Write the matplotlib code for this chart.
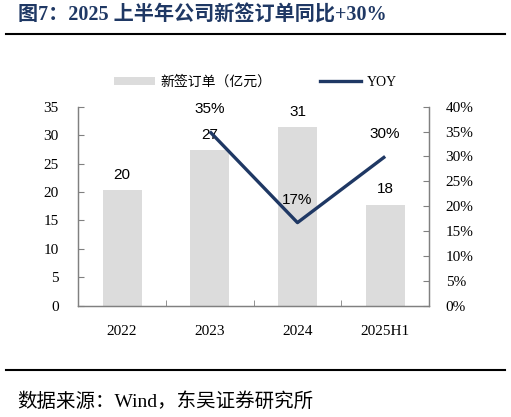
import matplotlib
matplotlib.use("Agg")
import matplotlib.pyplot as plt
from matplotlib.lines import Line2D
from matplotlib.patches import Patch
import numpy as np

# chart data
categories = ["2022", "2023", "2024", "2025H1"]
orders = [20.3, 27.3, 31.4, 17.8]          # 新签订单（亿元）
yoy_cats = ["2023", "2024", "2025H1"]
yoy = [0.35, 0.167, 0.30]                  # YOY

bar_color = "#dcdcdc"
line_color = "#1f3864"
spine_color = "#808080"
serif_cjk = ["Liberation Serif", "Noto Sans CJK SC"]
sans = ["Liberation Sans", "Noto Sans CJK SC"]

fig = plt.figure(figsize=(5.11, 4.17), dpi=100)
ax = fig.add_axes([0.1532, 0.2669, 0.6863, 0.4772])
ax2 = ax.twinx()

x = np.arange(len(categories))
ax.bar(x, orders, width=0.445, color=bar_color, zorder=1)
for xi, v in zip(x, orders):
    ax.annotate(f"{v:.0f}", (xi, v), xytext=(0, 11), textcoords="offset points",
                ha="center", va="center", fontsize=11, family=sans, color="#000000")

xl = [categories.index(c) for c in yoy_cats]
ax2.plot(xl, yoy, color=line_color, lw=2.4, solid_capstyle="butt", zorder=3)
for xi, v in zip(xl, yoy):
    ax2.annotate(f"{v:.0%}", (xi, v), xytext=(0, 16), textcoords="offset points",
                 ha="center", va="center", fontsize=11, family=sans, color="#000000")

ax.set_xlim(-0.5, len(categories) - 0.5)
ax.set_ylim(0, 35)
ax.set_yticks(np.arange(0, 36, 5))
ax2.set_ylim(0, 0.40)
ax2.set_yticks(np.arange(0, 0.41, 0.05))
ax2.set_yticklabels([f"{t:.0%}" for t in np.arange(0, 0.41, 0.05)])

ax.set_xticks(x)
ax.set_xticklabels(categories)
ax.set_xticks(np.arange(0.5, len(categories) - 1, 1), minor=True)
ax.tick_params(axis="x", which="major", length=0, pad=14)
ax.tick_params(axis="x", which="minor", direction="in", length=4, color=spine_color)
ax.tick_params(axis="y", direction="in", length=4, color=spine_color, pad=14)
ax2.tick_params(axis="y", direction="in", length=4, color=spine_color, pad=12)

for a in (ax, ax2):
    for lab in a.get_xticklabels() + a.get_yticklabels():
        lab.set_family(serif_cjk)
        lab.set_fontsize(11)
    a.spines["top"].set_visible(False)
    for s in ("left", "right", "bottom"):
        a.spines[s].set_color(spine_color)
        a.spines[s].set_linewidth(0.9)

ax2.set_zorder(ax.get_zorder() + 1)
ax2.patch.set_visible(False)

handles = [Patch(facecolor=bar_color, edgecolor="none"),
           Line2D([0], [0], color=line_color, lw=2.4)]
fig.legend(handles, ["新签订单（亿元）", "YOY"], loc="center", bbox_to_anchor=(0.5, 0.803),
           ncol=2, frameon=False, handlelength=2.95, handleheight=0.6, handletextpad=0.4,
           columnspacing=3.5, prop={"family": serif_cjk, "size": 10})

# title, rules and source
fig.text(0.035, 0.962, "图7：2025 上半年公司新签订单同比+30%", fontsize=14.5, fontweight="bold",
         family=serif_cjk, color=line_color, va="center", ha="left")
fig.add_artist(Line2D([0.012, 0.988], [0.918, 0.918], color="black", lw=1.5))
fig.add_artist(Line2D([0.012, 0.988], [0.113, 0.113], color="black", lw=1.5))
fig.text(0.033, 0.036, "数据来源：Wind，东吴证券研究所", fontsize=14, family=serif_cjk,
         color="black", va="center", ha="left")

fig.savefig("out.png", dpi=100)
